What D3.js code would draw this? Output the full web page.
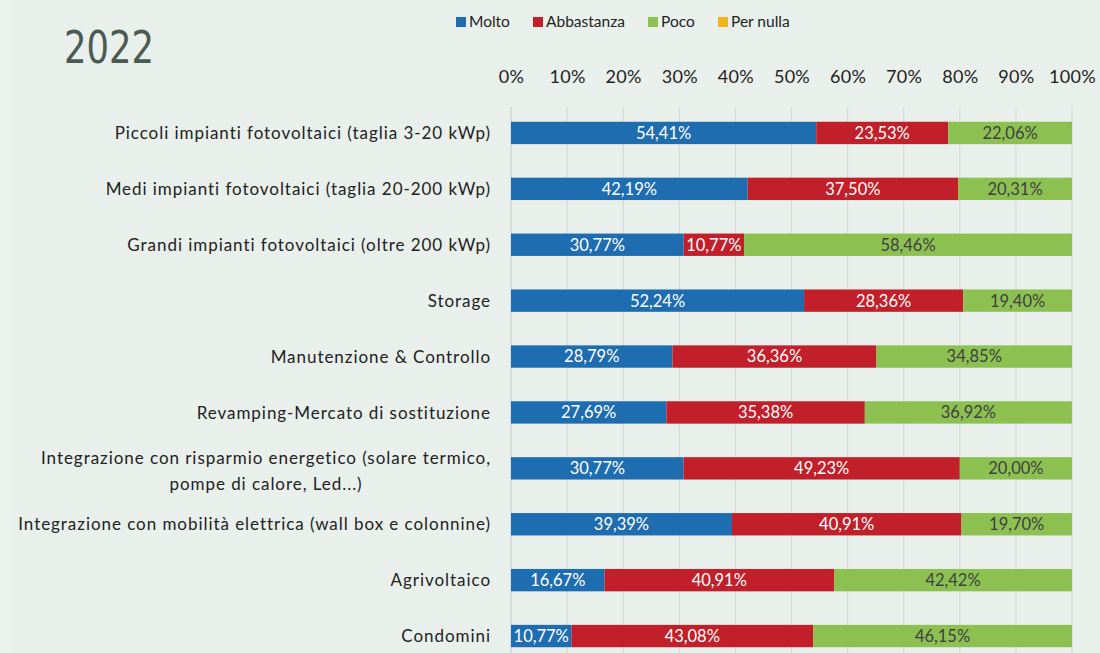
<!DOCTYPE html>
<html><head><meta charset="utf-8">
<script src="https://cdn.jsdelivr.net/npm/d3@7"></script>
<style>body{margin:0;background:#eaf0ec;}svg{display:block;}</style>
</head><body>
<script>
const categories = [
  ["Piccoli impianti fotovoltaici (taglia 3-20 kWp)"],
  ["Medi impianti fotovoltaici (taglia 20-200 kWp)"],
  ["Grandi impianti fotovoltaici (oltre 200 kWp)"],
  ["Storage"],
  ["Manutenzione & Controllo"],
  ["Revamping-Mercato di sostituzione"],
  ["Integrazione con risparmio energetico (solare termico,", "pompe di calore, Led...)"],
  ["Integrazione con mobilità elettrica (wall box e colonnine)"],
  ["Agrivoltaico"],
  ["Condomini"]
];
const seriesNames = ["Molto", "Abbastanza", "Poco", "Per nulla"];
const molto      = [54.41, 42.19, 30.77, 52.24, 28.79, 27.69, 30.77, 39.39, 16.67, 10.77];
const abbastanza = [23.53, 37.50, 10.77, 28.36, 36.36, 35.38, 49.23, 40.91, 40.91, 43.08];
const poco       = [22.06, 20.31, 58.46, 19.40, 34.85, 36.92, 20.00, 19.70, 42.42, 46.15];
const perNulla   = [0, 0, 0, 0, 0, 0, 0, 0, 0, 0];
const tickValues = [0, 10, 20, 30, 40, 50, 60, 70, 80, 90, 100];
const title = "2022";

const colors = ["#1f6db1", "#c1202a", "#8cc152", "#f0b41c"];
const labelColors = ["#ffffff", "#ffffff", "#404040", "#404040"];
const W = 1100, H = 653;
const font = "Lato, 'Open Sans', sans-serif";

const svg = d3.select("body").append("svg").attr("width", W).attr("height", H);
svg.append("rect").attr("width", W).attr("height", H).attr("fill", "#eef2ef");
svg.append("rect").attr("x", 13).attr("width", W - 13).attr("height", H).attr("fill", "#e9efeb");

svg.append("text").attr("x", 64).attr("y", 63).text(title)
  .attr("font-family", "'Liberation Sans Narrow', 'DejaVu Sans Condensed', sans-serif")
  .attr("font-size", 44).attr("fill", "#4b5a53")
  .attr("textLength", 90).attr("lengthAdjust", "spacingAndGlyphs");

const x = d3.scaleLinear().domain([0, 100]).range([511, 1072]);
const y = d3.scaleBand().domain(d3.range(categories.length)).range([105, 664]).paddingInner(0.6).paddingOuter(0.3);

// legend
const legX = [456, 533, 648, 718];
const leg = svg.append("g");
seriesNames.forEach((n, i) => {
  leg.append("rect").attr("x", legX[i]).attr("y", 17).attr("width", 10).attr("height", 10).attr("fill", colors[i]);
  leg.append("text").attr("x", legX[i] + 13).attr("y", 27).text(n)
    .attr("font-family", font).attr("font-size", 15.5).attr("fill", "#222");
});

// gridlines
svg.append("g").selectAll("line").data(tickValues).join("line")
  .attr("x1", d => x(d)).attr("x2", d => x(d)).attr("y1", 107).attr("y2", H)
  .attr("stroke", d => d === 0 ? "#c8c8c8" : "#d6d6d6").attr("stroke-width", 1);

// top axis labels
const axis = d3.axisTop(x).tickValues(tickValues).tickFormat(d => d + "%").tickSize(0);
const ag = svg.append("g").attr("transform", "translate(0,86)").call(axis);
ag.select(".domain").remove();
ag.selectAll("text").attr("font-family", font).attr("font-size", 18)
  .attr("letter-spacing", "0.3px").attr("fill", "#222");

// stacked data
const rows = categories.map((c, i) => ({i, Molto: molto[i], Abbastanza: abbastanza[i], Poco: poco[i], "Per nulla": perNulla[i]}));
const stack = d3.stack().keys(seriesNames)(rows);

stack.forEach((layer, si) => {
  const g = svg.append("g");
  g.selectAll("rect").data(layer).join("rect")
    .attr("x", d => x(d[0])).attr("width", d => x(d[1]) - x(d[0]))
    .attr("y", (d, i) => y(i)).attr("height", y.bandwidth())
    .attr("fill", colors[si]);
  g.selectAll("text").data(layer.filter(d => d[1] - d[0] > 0)).join("text")
    .attr("x", d => (x(d[0]) + x(d[1])) / 2)
    .attr("y", d => y(d.data.i) + y.bandwidth() / 2)
    .attr("dy", "0.36em").attr("text-anchor", "middle")
    .text(d => (d[1] - d[0]).toFixed(2).replace(".", ",") + "%")
    .attr("font-family", font).attr("font-size", 16.5).attr("fill", labelColors[si]);
});

// category labels
const catStyle = t => t.attr("font-family", font).attr("font-size", 17)
  .attr("letter-spacing", "0.95px").attr("fill", "#222");
categories.forEach((lines, i) => {
  const cy = y(i) + y.bandwidth() / 2;
  if (lines.length === 1) {
    svg.append("text").attr("x", 491).attr("y", cy).attr("dy", "0.36em")
      .attr("text-anchor", "end").text(lines[0]).call(catStyle);
  } else {
    const t = svg.append("text").call(catStyle);
    t.append("tspan").attr("x", 491).attr("y", cy - 10).attr("dy", "0.36em").attr("text-anchor", "end").text(lines[0]);
    const w = t.node().getComputedTextLength();
    t.append("tspan").attr("x", 491 - w / 2).attr("y", cy + 16).attr("dy", "0.36em").attr("text-anchor", "middle").text(lines[1]);
  }
});
</script>
</body></html>
